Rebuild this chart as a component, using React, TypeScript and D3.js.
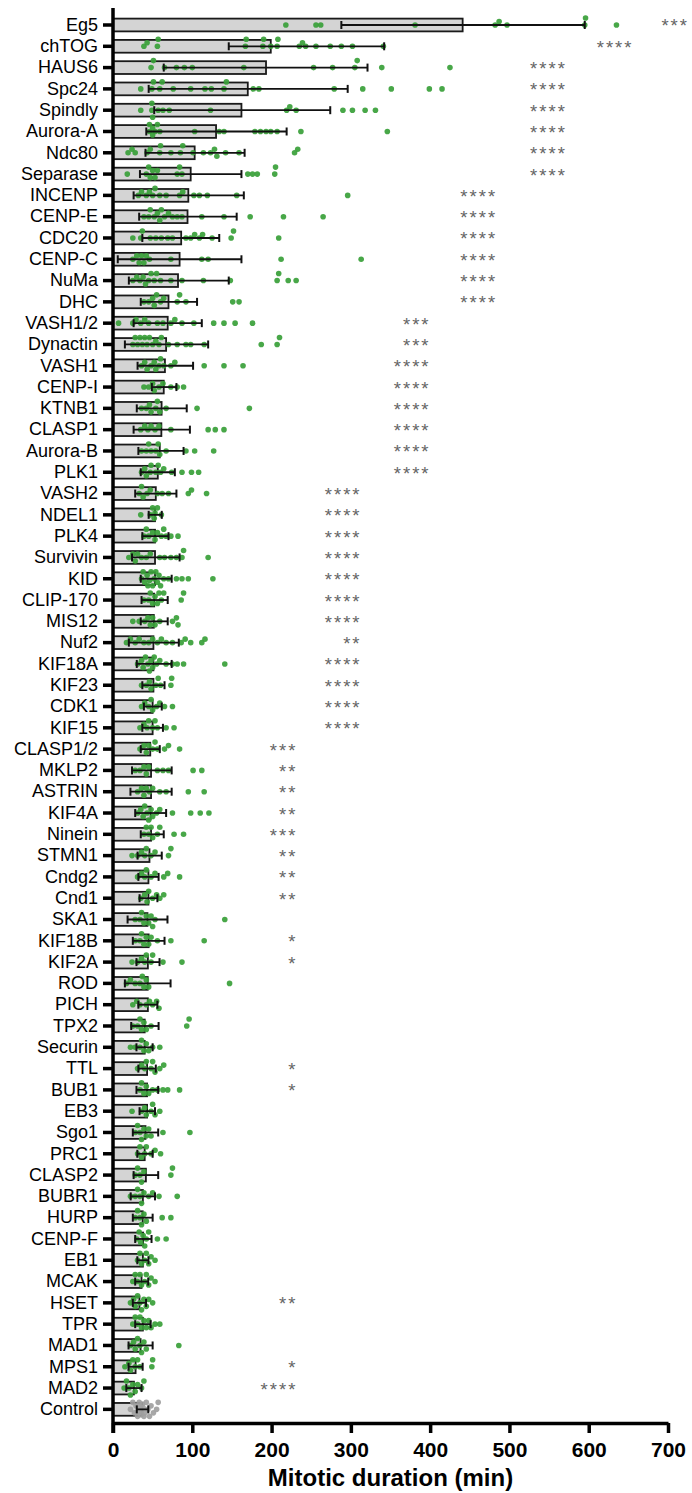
import React, { useEffect, useRef } from "react";
import * as d3 from "d3";

const categories = ["Eg5","chTOG","HAUS6","Spc24","Spindly","Aurora-A","Ndc80","Separase","INCENP","CENP-E","CDC20","CENP-C","NuMa","DHC","VASH1/2","Dynactin","VASH1","CENP-I","KTNB1","CLASP1","Aurora-B","PLK1","VASH2","NDEL1","PLK4","Survivin","KID","CLIP-170","MIS12","Nuf2","KIF18A","KIF23","CDK1","KIF15","CLASP1/2","MKLP2","ASTRIN","KIF4A","Ninein","STMN1","Cndg2","Cnd1","SKA1","KIF18B","KIF2A","ROD","PICH","TPX2","Securin","TTL","BUB1","EB3","Sgo1","PRC1","CLASP2","BUBR1","HURP","CENP-F","EB1","MCAK","HSET","TPR","MAD1","MPS1","MAD2","Control"];

const means = [441,199,193,170,162,130,103,98,95,94,86,84,82,70,69,67,65.5,64,61.3,61,59,56.5,54,53,53,53,53,52,51.5,51,51,51,50,50,47,48,48,47.5,48,46,44.7,44.7,43.5,45,44,43.8,44,40,40,43,43,43,41,40,41.5,37.7,37.5,38,37.7,36,33.4,37.7,34.8,28.5,26.4,37];

const errLow = [288,146,64,45,52,42,41,34,26,33,37,6,20,35,26,15,31,49,30,26,32,35,28,45,37,24,35,36,35,20,30,37,39,37,35,24,22,28,35,31,32,33.5,18.4,25,29.6,15,32,23,29.6,32,29.6,33.5,25,30.7,26,22.3,25,28,30.7,28,25,28,19.6,19.6,16.8,30];

const errHigh = [595,342,321,296,274,219,166,162,165,156,134,162,146,106,112,120,101,80,93,97,89,78,80,61.5,70,84,74,69,69,83,74,65,61.5,63,59,74,74,67,64,61.5,57.5,56,68.7,65,58.7,72.6,56,57.5,50,54,57,53,57,50,57,53,50,48.6,44.7,44.4,41.7,47.5,50,37.4,36,44.5];

const points: number[][] = [
  [218,256,262,381,482,487,497,595,596,635],
  [39,43,56,57,167,168,189,190,199,207,208,235,239,243,256,274,288,302,341],
  [48,51,65,80,90,100,165,253,277,305,308,339,425],
  [35,49,51,59,62,76,98,116,124,140,143,177,184,279,315,351,399,415],
  [35,49,49,50,57,63,71,123,219,223,231,290,302,318,331],
  [46,46,50,50,53,56,59,103,134,140,179,186,193,199,207,237,346],
  [19,24,28,43,47,59,60,73,85,88,101,114,123,128,131,142,159,229,233],
  [18,42,45,47,50,53,56,81,84,87,170,176,182,204,205],
  [32,36,42,46,50,53,59,67,84,88,102,109,119,156,296],
  [39,45,47,52,56,59,61,65,70,75,81,87,112,140,173,215,265],
  [25,35,37,47,54,61,69,75,92,98,103,109,113,125,149,152,209],
  [25,30,33,36,39,42,46,73,112,120,212,313],
  [25,30,34,38,41,45,48,52,55,60,73,87,114,148,207,209,221,231],
  [39,45,50,52,55,60,64,81,84,92,151,159],
  [7,25,29,35,40,45,56,63,73,78,87,102,127,140,154,176],
  [25,28,31,34,37,40,43,46,50,54,58,61,70,81,92,98,115,187,207,210],
  [36,40,43,48,52,54,58,60,64,73,78,115,140,164],
  [39,45,50,52,58,63,73,81,89],
  [36,42,46,48,54,56,59,67,106,172],
  [35,40,44,48,53,58,73,120,129,140],
  [36,42,45,48,54,57,59,67,92,103,127],
  [36,40,42,47,48,54,57,60,64,74,87,99,108],
  [33,36,38,43,47,56,62,70,95,99,118],
  [35,47,50,52,53,56,61],
  [39,42,45,50,53,56,61,64,67,73,82],
  [20,25,28,31,36,42,47,59,65,73,80,87,89,120],
  [36,38,40,43,44,46,48,50,52,54,56,58,60,64,70,80,87,95,126],
  [39,45,47,50,53,56,58,61,64,86,89],
  [25,33,40,44,47,50,53,59,75,80,82],
  [17,22,28,33,39,45,50,56,61,67,75,86,91,98,112,116],
  [31,36,38,41,44,46,48,50,52,55,59,67,75,81,89,141],
  [36,42,46,48,54,57,60,73,74],
  [36,40,45,48,50,55,59,65,75],
  [34,39,43,45,50,53,56,67,77],
  [34,39,42,45,50,53,56,65,70,84],
  [28,34,39,42,45,56,63,70,101,112],
  [31,36,39,42,46,50,59,67,95,115],
  [31,35,38,40,43,45,48,50,55,59,75,98,110,121],
  [39,42,45,48,50,56,59,77,89],
  [24,31,36,40,42,48,53,70,73],
  [31,36,40,42,48,53,64,69,84],
  [35,40,43,45,50,55,59,64],
  [28,34,36,39,42,45,48,50,53,141],
  [28,34,36,39,42,45,48,56,73,115],
  [24,31,36,40,42,48,50,63,87],
  [17,22,28,34,37,39,42,45,147],
  [25,30,34,42,46,50,55,58],
  [25,31,34,36,39,42,48,93,96],
  [22,28,34,36,39,42,45,50,59],
  [31,36,40,42,48,50,53,59,64],
  [34,36,39,42,45,50,56,63,69,84],
  [24,36,40,42,48,50,53,59],
  [28,31,34,36,39,42,45,48,63,97],
  [31,34,36,40,42,48,53,60],
  [28,31,34,36,39,73,75],
  [22,28,31,34,36,39,45,50,58,81],
  [28,31,34,36,39,42,62,73],
  [30,33,35,38,40,42,45,56,67],
  [31,34,36,40,42,45,48,53],
  [25,28,31,34,36,40,42,45,48,53],
  [22,26,28,31,34,36,39,42,45,50],
  [25,28,31,34,36,39,42,45,48,53,59],
  [22,26,28,31,34,36,39,42,83],
  [15,20,22,25,28,31,34,49,50],
  [14,17,20,22,25,28,31,36,39],
  [22,25,27,29,31,32,33,34,35,36,37,38,39,40,42,44,46,48,51,55,57]
];

const sigLabels = ["***","****","****","****","****","****","****","****","****","****","****","****","****","****","***","***","****","****","****","****","****","****","****","****","****","****","****","****","****","**","****","****","****","****","***","**","**","**","***","**","**","**","","*","*","","","","","*","*","","","","","","","","","","**","","","*","****",""];

// right end of each significance label, in minutes
const sigEnd = [724,654,570,570,570,570,570,570,482,482,482,482,482,482,398,398,398,398,398,398,398,398,311,311,311,311,311,311,311,311,311,311,311,311,230,230,230,230,230,230,230,230,230,230,230,230,230,230,230,230,230,230,230,230,230,230,230,230,230,230,230,230,230,230,230,230];

const xTicks = [0,100,200,300,400,500,600,700];
const xTitle = "Mitotic duration (min)";
const controlName = "Control";

const FONT = "'Liberation Sans', Arial, Helvetica, sans-serif";

export default function App() {
  const x = d3.scaleLinear().domain([0, 700]).range([113, 668]);
  const y = d3
    .scaleBand<string>()
    .domain(categories)
    .range([14.35, 1420])
    .paddingInner(0.4)
    .paddingOuter(0.2);
  const bw = y.bandwidth();
  const axisY = 1423;

  const xAxisRef = useRef<SVGGElement>(null);
  const yAxisRef = useRef<SVGGElement>(null);

  useEffect(() => {
    const gx = d3.select(xAxisRef.current as SVGGElement);
    gx.selectAll("*").remove();
    gx.call(
      d3.axisBottom(x).tickValues(xTicks).tickSize(10).tickSizeOuter(0).tickPadding(9).tickFormat(d3.format("d")) as any
    );
    gx.attr("font-family", FONT).attr("font-size", 21).attr("font-weight", "bold");
    gx.select(".domain").attr("stroke", "#000").attr("stroke-width", 3.5);
    gx.selectAll(".tick line").attr("stroke", "#000").attr("stroke-width", 3.5);
    gx.selectAll(".tick text").attr("fill", "#000");

    const gy = d3.select(yAxisRef.current as SVGGElement);
    gy.selectAll("*").remove();
    gy.call(d3.axisLeft(y).tickSize(10).tickPadding(5) as any);
    gy.attr("font-family", FONT).attr("font-size", 18);
    gy.select(".domain").remove();
    gy.selectAll(".tick line").attr("stroke", "#000").attr("stroke-width", 3.5);
    gy.selectAll(".tick text").attr("fill", "#000");
  }, []);

  const layoutDots = (vals: number[]) => {
    const sorted = [...vals].sort((a, b) => a - b);
    const placed: { px: number; dy: number; v: number }[] = [];
    const offsets = [0, -3.5, 3.5, -7, 7, -1.8, 1.8, -5.3, 5.3];
    const minDist = 4.6;
    for (const v of sorted) {
      const px = x(v);
      let best = 0;
      let bestMd = -1;
      for (const o of offsets) {
        let md = Infinity;
        for (const p of placed) {
          const d = Math.hypot(p.px - px, p.dy - o);
          if (d < md) md = d;
        }
        if (md >= minDist) {
          best = o;
          bestMd = md;
          break;
        }
        if (md > bestMd) {
          bestMd = md;
          best = o;
        }
      }
      placed.push({ px, dy: best, v });
    }
    return placed;
  };

  return (
    <svg
      width={692}
      height={1493}
      style={{ position: "absolute", left: 0, top: 0, display: "block", background: "#fff" }}
    >
      {/* bars */}
      <g>
        {categories.map((c, i) => (
          <rect
            key={c}
            x={x(0)}
            y={(y(c) as number)}
            width={x(means[i]) - x(0)}
            height={bw}
            fill="#d4d4d4"
            stroke="#1a1a1a"
            strokeWidth={1.8}
          />
        ))}
      </g>
      {/* dots */}
      <g>
        {categories.map((c, i) => {
          const cy = (y(c) as number) + bw / 2;
          const isControl = c === controlName;
          return layoutDots(points[i]).map((p, j) => (
            <circle
              key={c + j}
              cx={p.px}
              cy={cy + p.dy}
              r={2.8}
              fill={isControl ? "#a0a0a0" : "#38a038"}
              fillOpacity={0.92}
            />
          ));
        })}
      </g>
      {/* error bars */}
      <g stroke="#111" fill="none">
        {categories.map((c, i) => {
          const cy = (y(c) as number) + bw / 2;
          const x1 = x(errLow[i]);
          const x2 = x(errHigh[i]);
          return (
            <g key={c}>
              <line x1={x1} x2={x2} y1={cy} y2={cy} strokeWidth={1.8} />
              <line x1={x1} x2={x1} y1={cy - 4} y2={cy + 4} strokeWidth={2} />
              <line x1={x2} x2={x2} y1={cy - 4} y2={cy + 4} strokeWidth={2} />
            </g>
          );
        })}
      </g>
      {/* significance */}
      <g fontFamily={FONT} fontSize={18.5} fill="#666666" textAnchor="end" letterSpacing={2}>
        {categories.map((c, i) =>
          sigLabels[i] ? (
            <text key={c} x={x(sigEnd[i]) + 2} y={(y(c) as number) + bw / 2 + 7.5}>
              {sigLabels[i]}
            </text>
          ) : null
        )}
      </g>
      {/* axes */}
      <g ref={xAxisRef} transform={`translate(0,${axisY})`} />
      <g ref={yAxisRef} transform={`translate(${x(0)},0)`} />
      <line x1={x(0)} x2={x(0)} y1={8} y2={axisY + 10} stroke="#000" strokeWidth={3.5} />
      <text
        x={(x(0) + x(700)) / 2}
        y={1486}
        textAnchor="middle"
        fontFamily={FONT}
        fontWeight="bold"
        fontSize={24}
        fill="#000"
      >
        {xTitle}
      </text>
    </svg>
  );
}
